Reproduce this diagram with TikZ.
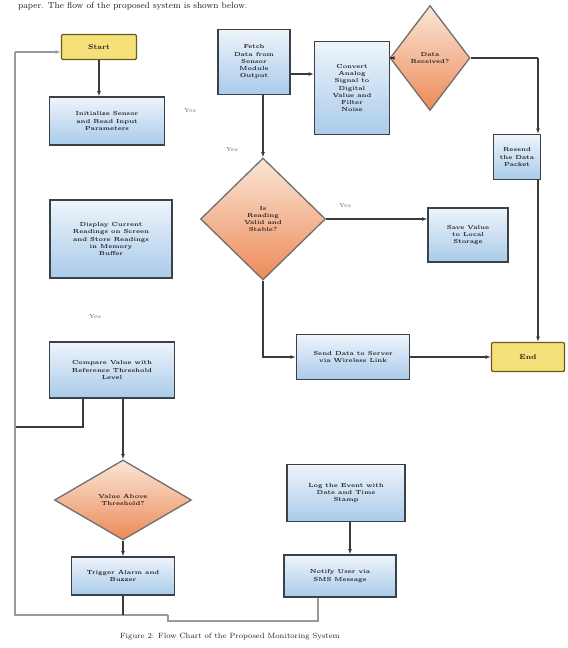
\documentclass[tikz,border=0pt]{standalone}
\usetikzlibrary{arrows.meta,positioning,shapes.geometric,calc}
\definecolor{boxtop}{HTML}{EEF4FB}
\definecolor{boxbot}{HTML}{A9CBEA}
\definecolor{boxline}{HTML}{3C4148}
\definecolor{dectop}{HTML}{FBE6D6}
\definecolor{decbot}{HTML}{EC8A58}
\definecolor{decline}{HTML}{6E6E6E}
\definecolor{termfill}{HTML}{F6E07A}
\definecolor{termline}{HTML}{6B5A1E}
\definecolor{wire}{HTML}{3A3A3A}
\definecolor{loopc}{HTML}{9A9A9A}
\definecolor{txt}{HTML}{1E1E1E}

\begin{document}
\begin{tikzpicture}[
  x=0.03cm, y=-0.03cm,
  >=Latex,
  every node/.style={text=txt},
  proc/.style={draw=boxline, line width=1.1pt, top color=boxtop, bottom color=boxbot,
     align=center, inner sep=2pt, font=\fontsize{5}{6.2}\selectfont\bfseries},
  dec/.style={diamond, draw=decline, line width=1.1pt, top color=dectop, bottom color=decbot,
     align=center, inner sep=0pt, font=\fontsize{5}{6.2}\selectfont\bfseries},
  term/.style={draw=termline, line width=1.1pt, fill=termfill, rounded corners=1pt,
     align=center, inner sep=2pt, font=\fontsize{6}{7}\selectfont\bfseries},
  lbl/.style={font=\fontsize{5}{6}\selectfont, text=txt!70},
  arr/.style={->, line width=0.9pt, draw=wire, >={Latex[length=1.6mm]}},
  wirel/.style={line width=0.9pt, draw=wire},
  loopl/.style={line width=1.1pt, draw=loopc},
]
\useasboundingbox (0,0) rectangle (568,648);
% --- text of the page around the figure ---
\node[anchor=base west, font=\fontsize{7.5}{9}\selectfont, text=txt] (intro) at (14,9)
  {paper. The flow of the proposed system is shown below.};
\node[font=\fontsize{6.5}{8}\selectfont, text=txt] (caption) at (230,637)
  {Figure 2: Flow Chart of the Proposed Monitoring System};
% --- left column ---
\node[term, minimum width=2.25cm, minimum height=0.75cm] (start) at (99,47) {Start};
\node[proc, minimum width=3.45cm, minimum height=1.44cm] (init) at (107,121)
  {Initialize Sensor\\and Read Input\\Parameters};
\node[proc, minimum width=3.66cm, minimum height=2.34cm] (calib) at (111,239)
  {Display Current\\Readings on Screen\\and Store Readings\\in Memory\\Buffer};
\node[proc, minimum width=3.75cm, minimum height=1.68cm] (alarm) at (112,370)
  {Compare Value with\\Reference Threshold\\Level};
\node[dec, minimum width=4.11cm, minimum height=2.4cm] (limit) at (123,500)
  {Value Above\\Threshold?};
\node[proc, minimum width=3.09cm, minimum height=1.14cm] (buzz) at (123,576)
  {Trigger Alarm and\\Buzzer};
% --- middle column ---
\node[proc, minimum width=2.16cm, minimum height=1.95cm] (fetch) at (254,62)
  {Fetch\\Data from\\Sensor\\Module\\Output};
\node[proc, minimum width=2.25cm, minimum height=2.79cm] (proc1) at (352,88)
  {Convert\\Analog\\Signal to\\Digital\\Value and\\Filter\\Noise};
\node[dec, minimum width=3.75cm, minimum height=3.66cm] (valid) at (263,219)
  {Is\\Reading\\Valid and\\Stable?};
\node[proc, minimum width=3.39cm, minimum height=1.35cm] (send) at (353,357)
  {Send Data to Server\\via Wireless Link};
\node[proc, minimum width=3.54cm, minimum height=1.71cm] (log) at (346,493)
  {Log the Event with\\Date and Time\\Stamp};
\node[proc, minimum width=3.36cm, minimum height=1.26cm] (notify) at (340,576)
  {Notify User via\\SMS Message};
% --- right column ---
\node[dec, minimum width=2.4cm, minimum height=3.15cm] (check) at (430,58)
  {Data\\Received?};
\node[proc, minimum width=1.41cm, minimum height=1.35cm] (retry) at (517,157)
  {Resend\\the Data\\Packet};
\node[proc, minimum width=2.4cm, minimum height=1.62cm] (store) at (468,235)
  {Save Value\\to Local\\Storage};
\node[term, minimum width=2.19cm, minimum height=0.87cm] (stop) at (528,357) {End};
% --- labels ---
\node[lbl] (yes1) at (190,111) {Yes};
\node[lbl] (yes2) at (232,150) {Yes};
\node[lbl] (yes3) at (345,206) {Yes};
\node[lbl] (yes4) at (95,317) {Yes};
% --- connectors ---
\draw[arr] (start) -- (start |- init.north);
\draw[arr] ([yshift=-0.36cm]fetch.east) -- ([yshift=-0.36cm]fetch.east -| proc1.west);
\draw[arr] (check.west -| proc1.east) -- (check.west);
\coordinate (rc) at (538,58);
\draw[wirel] (check.east) -- (rc);
\draw[arr] (rc) -- (rc |- retry.north);
\draw[arr] (retry.south -| rc) -- (rc |- stop.north);
\draw[arr] (valid.north |- fetch.south) -- (valid.north);
\draw[arr] (valid.east) -- (valid.east -| store.west);
\draw[arr] (valid.south) |- (send.west);
\draw[arr] (send) -- (stop);
\draw[arr] (limit.north |- alarm.south) -- (limit.north);
\draw[arr] (limit) -- (buzz);
\draw[arr] ([xshift=0.12cm]log.south) -- ([xshift=0.12cm]log.south |- notify.north);
% return loop on the left
\coordinate (lt) at (15,52);
\coordinate (lb) at (15,615);
\coordinate (lm) at (15,427);
\coordinate (bj) at (168,615);
\coordinate (bn) at (318,621);
\draw[wirel] ([xshift=-0.87cm]alarm.south) |- (lm);
\draw[loopl] (bj) -- (lb) -- (lt);
\draw[arr, draw=loopc] (lt) -- (lt -| start.west);
\draw[wirel] (buzz.south) -- (buzz.south |- lb);
\draw[loopl] (notify.south -| bn) -- (bn) -- (bn -| bj) -- (bj);
\end{tikzpicture}
\end{document}
